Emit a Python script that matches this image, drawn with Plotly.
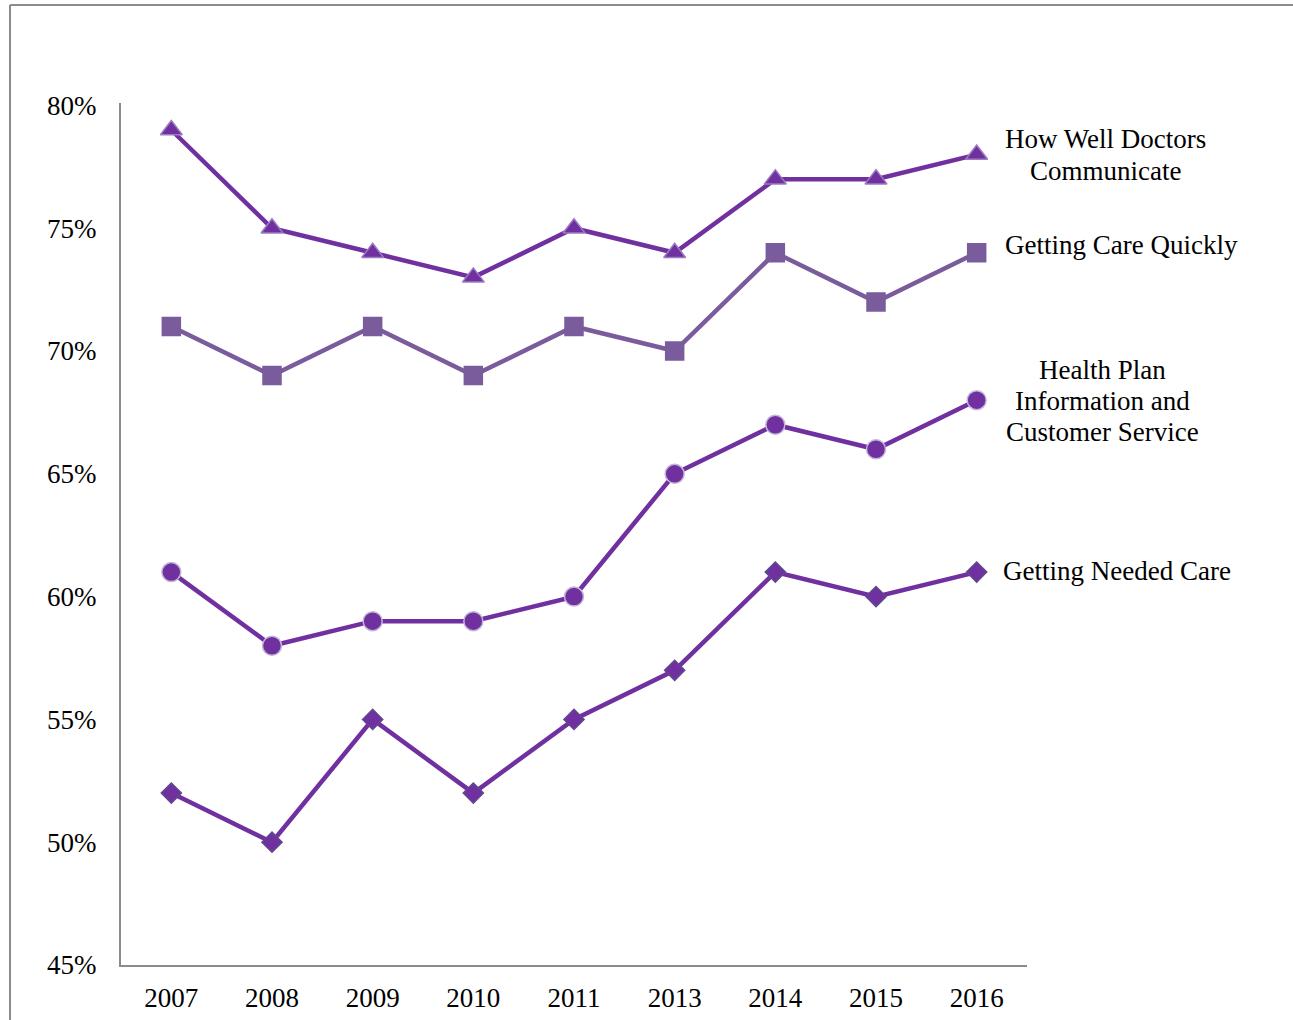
import plotly.graph_objects as go

years = ["2007", "2008", "2009", "2010", "2011", "2013", "2014", "2015", "2016"]
doctors = [79, 75, 74, 73, 75, 74, 77, 77, 78]
quickly = [71, 69, 71, 69, 71, 70, 74, 72, 74]
health_plan = [61, 58, 59, 59, 60, 65, 67, 66, 68]
needed = [52, 50, 55, 52, 55, 57, 61, 60, 61]
y_ticks = [45, 50, 55, 60, 65, 70, 75, 80]
y_labels = [f"{v}%" for v in y_ticks]

FONT = "Liberation Serif"
FS = 27
W, H = 1293, 1020
ML, MR, MT, MB = 121, 266, 103, 55
PW, PH = W - ML - MR, H - MT - MB

fig = go.Figure()
series = [
    (doctors, "triangle-up", "#7030A0", "#7030A0", "#9B7CC0", 19),
    (quickly, "square", "#7A5C9C", "#7A5C9C", "#7A5C9C", 18),
    (health_plan, "circle", "#7030A0", "#7030A0", "#C4B8D8", 19),
    (needed, "diamond", "#7030A0", "#7030A0", "#5E4A8C", 15.5),
]
for vals, sym, lc, fc, bc, sz in series:
    fig.add_trace(go.Scatter(
        x=years, y=vals, mode="lines+markers",
        line=dict(color=lc, width=4.5),
        marker=dict(symbol=sym, size=sz, color=fc, line=dict(color=bc, width=1.5)),
        showlegend=False, hoverinfo="skip",
    ))

# label lines: (text, pixel x, pixel y center, anchor)
label_lines = [
    ("How Well Doctors", 1105, 139, "center"),
    ("Communicate", 1105, 171, "center"),
    ("Getting Care Quickly", 1003, 245, "left"),
    ("Health Plan", 1102, 370, "center"),
    ("Information and", 1102, 401, "center"),
    ("Customer Service", 1102, 432, "center"),
    ("Getting Needed Care", 1001, 571, "left"),
]
for text, px, py, anchor in label_lines:
    fig.add_annotation(
        x=(px - ML) / PW, y=1 - (py - MT) / PH, xref="paper", yref="paper",
        text=text, showarrow=False, xanchor=anchor, yanchor="middle",
        font=dict(family=FONT, size=FS, color="#000000"),
    )

# outer frame lines (left and top)
fig.add_shape(type="line", xref="paper", yref="paper",
              x0=(10 - ML) / PW, x1=(W - ML) / PW, y0=1 + (MT - 5) / PH, y1=1 + (MT - 5) / PH,
              line=dict(color="#8C8C8C", width=2))
fig.add_shape(type="line", xref="paper", yref="paper",
              x0=(10 - ML) / PW, x1=(10 - ML) / PW, y0=1 + (MT - 5) / PH, y1=-(MB + 5) / PH,
              line=dict(color="#8C8C8C", width=2))

fig.update_layout(
    width=W, height=H,
    margin=dict(l=ML, r=MR, t=MT, b=MB, pad=0, autoexpand=False),
    paper_bgcolor="white", plot_bgcolor="white",
    font=dict(family=FONT, size=FS, color="#000000"),
    xaxis=dict(type="category", range=[-0.5, 8.5], showgrid=False, zeroline=False,
               showline=True, linecolor="#8C8C8C", linewidth=2, ticks="", automargin=False,
               ticklabelstandoff=8, tickfont=dict(family=FONT, size=FS)),
    yaxis=dict(range=[45, 80.1], showgrid=False, zeroline=False,
               showline=True, linecolor="#8C8C8C", linewidth=2, ticks="", automargin=False,
               tickvals=y_ticks, ticktext=y_labels, ticklabelstandoff=17,
               tickfont=dict(family=FONT, size=FS)),
)

fig.write_html("out.html", config={"displayModeBar": False},
               post_script="document.body.style.margin='0';")
